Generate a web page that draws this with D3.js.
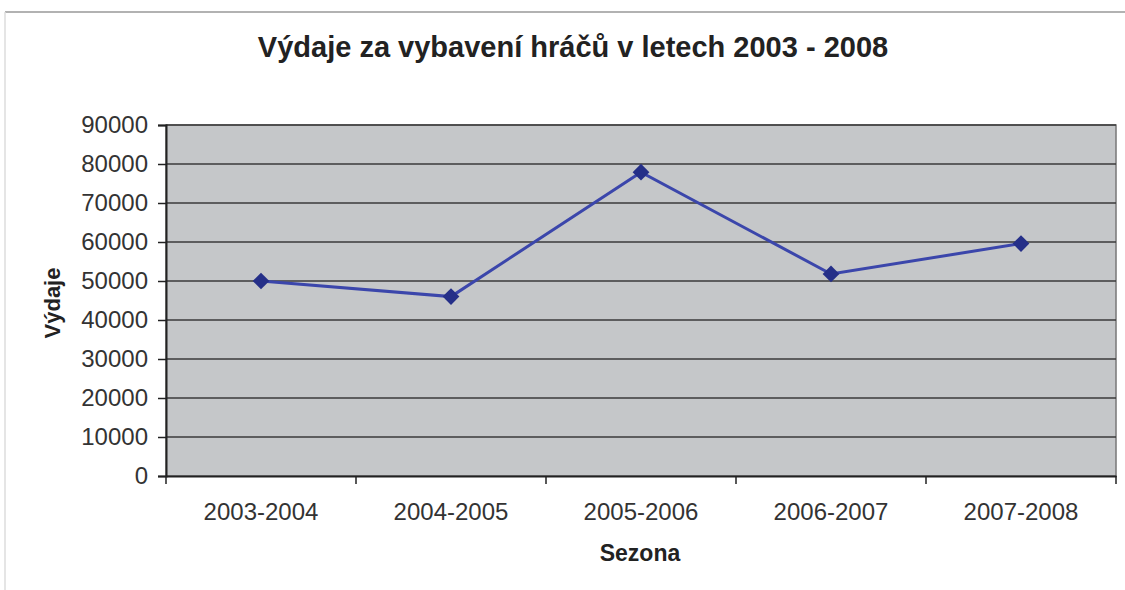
<!DOCTYPE html>
<html><head><meta charset="utf-8">
<script src="https://cdn.jsdelivr.net/npm/d3@7/dist/d3.min.js"></script>
<style>body{margin:0;background:#fff;} text{font-family:"Liberation Sans",Arial,sans-serif;}</style>
</head><body><svg id="c" width="1125" height="590"></svg>
<script>
const categories = ["2003-2004","2004-2005","2005-2006","2006-2007","2007-2008"];
const values = [50000, 46000, 77900, 51800, 59600];
const yTicks = [0,10000,20000,30000,40000,50000,60000,70000,80000,90000];
const title = "Výdaje za vybavení hráčů v letech 2003 - 2008";

const svg = d3.select("#c");
const m = {left:166, right:1116, top:125, bottom:476};

// outer frame
svg.append("line").attr("x1",5).attr("x2",1125).attr("y1",12).attr("y2",12).attr("stroke","#999").attr("stroke-width",1.5);
svg.append("line").attr("x1",5).attr("x2",5).attr("y1",12).attr("y2",590).attr("stroke","#ddd").attr("stroke-width",1.5);

const x = d3.scaleBand().domain(categories).range([m.left,m.right]);
const y = d3.scaleLinear().domain([0,90000]).range([m.bottom,m.top]);

svg.append("rect").attr("x",m.left).attr("y",m.top).attr("width",m.right-m.left).attr("height",m.bottom-m.top)
  .attr("fill","#c5c7c9").attr("stroke","#777").attr("stroke-width",1.5);

// gridlines
svg.append("g").selectAll("line").data(yTicks.filter(d=>d>0)).join("line")
  .attr("x1",m.left).attr("x2",m.right).attr("y1",d=>y(d)).attr("y2",d=>y(d))
  .attr("stroke","#3a3a3a").attr("stroke-width",1.5);

// y axis
const ya = svg.append("g").attr("transform",`translate(${m.left},0)`)
  .call(d3.axisLeft(y).tickValues(yTicks).tickSize(8).tickPadding(10).tickFormat(d3.format("d")));
ya.select(".domain").attr("stroke","#222").attr("stroke-width",2);
ya.selectAll(".tick line").attr("stroke","#222").attr("stroke-width",1.5);
ya.selectAll("text").attr("font-size",24).attr("fill","#333").style("font-family","'Liberation Sans',Arial,sans-serif");

// x axis
const xa = svg.append("g").attr("transform",`translate(0,${m.bottom})`)
  .call(d3.axisBottom(x).tickSize(0).tickPadding(27));
xa.select(".domain").attr("stroke","#222").attr("stroke-width",2);
xa.selectAll("text").attr("font-size",24).attr("fill","#333").style("font-family","'Liberation Sans',Arial,sans-serif");
// category boundary ticks
const bounds = categories.map(c=>x(c)).concat([m.right]);
svg.append("g").selectAll("line").data(bounds).join("line")
  .attr("x1",d=>d).attr("x2",d=>d).attr("y1",m.bottom).attr("y2",m.bottom+8)
  .attr("stroke","#222").attr("stroke-width",1.5);

// line
const cx = d=>x(d)+x.bandwidth()/2;
const data = categories.map((c,i)=>({c,v:values[i]}));
svg.append("path").datum(data)
  .attr("d",d3.line().x(d=>cx(d.c)).y(d=>y(d.v)))
  .attr("fill","none").attr("stroke","#3b46ab").attr("stroke-width",3);
svg.append("g").selectAll("path").data(data).join("path")
  .attr("d",d3.symbol().type(d3.symbolSquare).size(140))
  .attr("transform",d=>`translate(${cx(d.c)},${y(d.v)}) rotate(45)`)
  .attr("fill","#252f88");

// titles
svg.append("text").attr("x",573).attr("y",57).attr("text-anchor","middle")
  .attr("font-size",29).attr("font-weight","bold").attr("fill","#222").text(title);
svg.append("text").attr("x",640).attr("y",561).attr("text-anchor","middle")
  .attr("font-size",23).attr("font-weight","bold").attr("fill","#222").text("Sezona");
svg.append("text").attr("transform","translate(60,303) rotate(-90)").attr("text-anchor","middle")
  .attr("font-size",22).attr("font-weight","bold").attr("fill","#222").text("Výdaje");
</script></body></html>
